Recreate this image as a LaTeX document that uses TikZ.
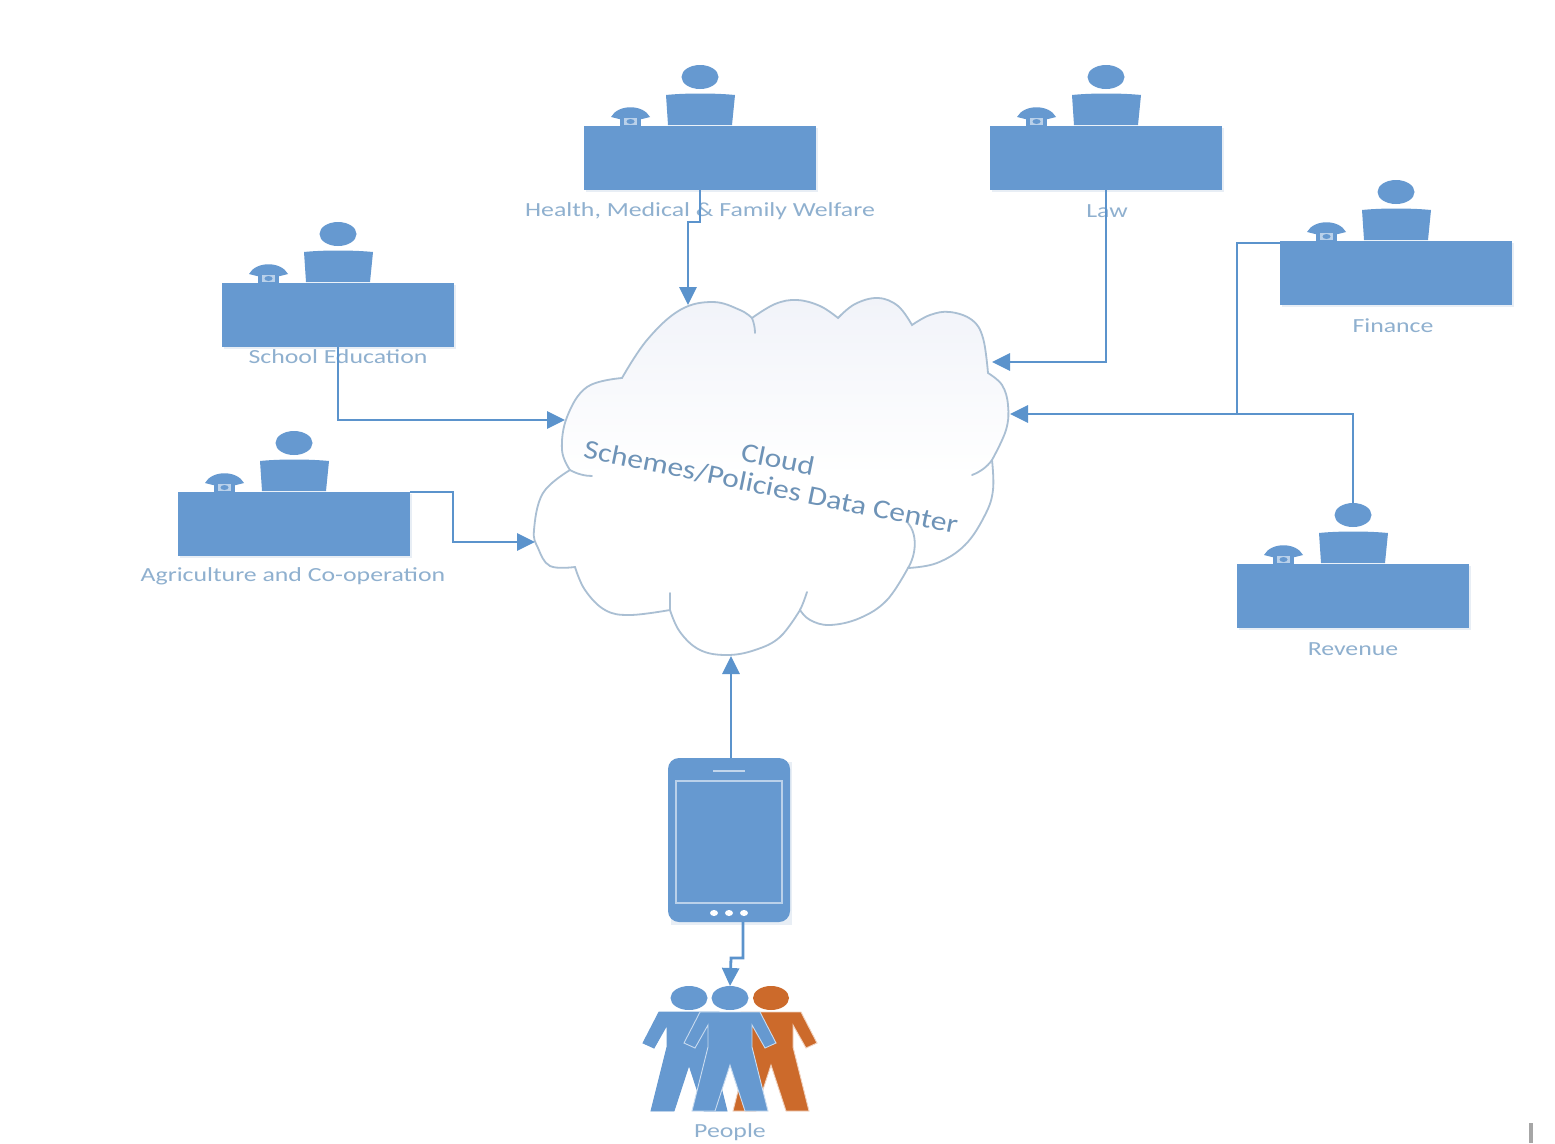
\documentclass[tikz,border=0pt]{standalone}
\usepackage{fontspec}
\setmainfont{Carlito}
\usetikzlibrary{arrows.meta,shapes.geometric,shadings}
\definecolor{ublue}{HTML}{6699D0}
\definecolor{lineblue}{HTML}{5B93CC}
\definecolor{uorange}{HTML}{CC6A2B}
\definecolor{cloudline}{HTML}{AABFD3}
\definecolor{labelc}{HTML}{8FB0CF}
\definecolor{cloudtext}{HTML}{6E93B7}
\definecolor{deskshadow}{HTML}{E8EEF5}
\definecolor{cloudtop}{HTML}{F1F3F9}
\pgfdeclareverticalshading{cloudfade}{100bp}{
  color(0bp)=(white); color(50bp)=(white); color(75bp)=(cloudtop); color(100bp)=(cloudtop)}
\tikzset{
  deskbox/.style={rectangle,fill=ublue,minimum width=232pt,minimum height=64pt,inner sep=0pt,outer sep=0pt},
  headshape/.style={ellipse,fill=ublue,minimum width=37pt,minimum height=24pt,inner sep=0pt,outer sep=0pt},
  lab/.style={text=labelc,font=\fontsize{20}{22}\selectfont,xscale=1.29,inner sep=0pt},
  conn/.style={draw=lineblue,line width=2.8pt,-{Triangle[length=18pt,width=17pt]}},
  connplain/.style={draw=lineblue,line width=2.8pt},
  cloudedge/.style={draw=cloudline,line width=1.8pt},
  cloudlabel/.style={text=cloudtext,font=\fontsize{27}{29}\selectfont,rotate=-11.5,xscale=1.17,inner sep=0pt},
  lobe/.style={smooth,tension=.65},
}
% #1 name, #2 centre x, #3 desk top y, #4 label x, #5 label y, #6 label
\newcommand{\workstation}[6]{%
  \fill[deskshadow] (#2-114,#3+2) rectangle (#2+118,#3+66);
  \node[deskbox] (#1) at (#2,#3+32) {};
  \node[headshape] (#1-head) at (#2,#3-49) {};
  \fill[ublue] (#2-34,#3-31) .. controls (#2-15,#3-33) and (#2+15,#3-33) .. (#2+35,#3-31)
     -- (#2+32,#3-1) -- (#2-32,#3-1) -- cycle;
  \fill[ublue] (#2-89,#3-9) .. controls (#2-82,#3-22) and (#2-57,#3-22) .. (#2-50,#3-9)
     -- (#2-58,#3-7) -- (#2-81,#3-7) -- cycle;
  \fill[ublue] (#2-80,#3-9) rectangle (#2-59,#3);
  \fill[white!55!ublue] (#2-76,#3-8) rectangle (#2-63,#3-1);
  \fill[ublue] (#2-69.5,#3-4.5) ellipse (4pt and 2.5pt);
  \node[lab] (#1-label) at (#4,#5) {#6};
}
% #1 head x, #2 colour, #3 outline
\newcommand{\figurebody}[3]{%
  \path[fill=#2,draw=#3,line width=.9pt] (#1-30,1012) -- (#1+30,1012) -- (#1+46,1043) -- (#1+35,1048)
    -- (#1+22,1025) -- (#1+22,1047) -- (#1+38,1111) -- (#1+15,1111) -- (#1,1065) -- (#1-15,1111)
    -- (#1-38,1111) -- (#1-22,1047) -- (#1-22,1025) -- (#1-35,1048) -- (#1-46,1043) -- cycle;
}
\begin{document}
\begin{tikzpicture}[x=1pt,y=-1pt]
\useasboundingbox (0,0) rectangle (1555,1143);
\fill[white] (0,0) rectangle (1555,1143);

% cloud
\path[cloudedge,shading=cloudfade]
  plot[lobe] coordinates {(622,378) (647,340) (680,310) (713,302) (740,310) (752,318)}
  -- plot[lobe] coordinates {(752,318) (775,304) (797,300) (820,306) (838,318)}
  -- plot[lobe] coordinates {(838,318) (855,304) (878,298) (898,306) (912,325)}
  -- plot[lobe] coordinates {(912,325) (930,315) (950,312) (972,320) (983,338) (988,373)}
  -- plot[lobe] coordinates {(988,373) (1002,385) (1008,405) (1006,430) (992,460)}
  -- plot[lobe] coordinates {(992,460) (993,490) (985,515) (965,545) (937,563) (908,568)}
  -- plot[lobe] coordinates {(908,568) (887,600) (860,618) (830,625) (810,620) (800,610)}
  -- plot[lobe] coordinates {(800,610) (780,637) (755,650) (727,655) (700,650) (680,632) (670,610)}
  -- plot[lobe] coordinates {(670,610) (630,615) (605,610) (585,590) (575,567)}
  -- plot[lobe] coordinates {(575,567) (550,566) (538,548) (534,530) (543,493) (570,470)}
  -- plot[lobe] coordinates {(570,470) (562,450) (567,417) (587,387) (622,378)} -- cycle;
\draw[cloudedge,line cap=round] (752,318) .. controls (754,323) and (755,328) .. (755,333);
\draw[cloudedge,line cap=round] (992,460) .. controls (987,467) and (980,472) .. (972,475);
\draw[cloudedge,line cap=round] (908,568) .. controls (916,555) and (918,535) .. (908,523);
\draw[cloudedge,line cap=round] (800,610) .. controls (803,604) and (805,598) .. (807,592);
\draw[cloudedge,line cap=round] (670,610) -- (670,593);
\draw[cloudedge,line cap=round] (570,470) .. controls (577,474) and (585,476) .. (592,476);
\node[cloudlabel] (cloudword) at (778,459) {Cloud};
\node[cloudlabel] (cloudname) at (771,487) {Schemes/Policies Data Center};

% attachment points on the cloud
\coordinate (cTop) at (688,305);
\coordinate (cLaw) at (992,362);
\coordinate (cRight) at (1010,414);
\coordinate (cLeft) at (565,420);
\coordinate (cAgri) at (535,542);
\coordinate (cBottom) at (731,656);

% workstations
\workstation{health}{700}{126}{700}{211}{Health, Medical \& Family Welfare}
\workstation{law}{1106}{126}{1107}{211}{Law}
\workstation{school}{338}{283}{338}{357}{School Education}
\workstation{agri}{294}{492}{293}{576}{Agriculture and Co-operation}
\workstation{finance}{1396}{241}{1393}{326}{Finance}
\workstation{revenue}{1353}{564}{1353}{649}{Revenue}

% phone
\fill[deskshadow] (671,762) rectangle (792,925);
\node[rectangle,rounded corners=11pt,fill=ublue,minimum width=122pt,minimum height=164pt,inner sep=0pt,outer sep=0pt] (phone) at (729,840) {};
\node[rectangle,draw=white!55!ublue,line width=1.6pt,minimum width=106pt,minimum height=122pt,inner sep=0pt] (screen) at (729,842) {};
\draw[white!60!ublue,line width=1.4pt] (713,771) -- (745,771);
\fill[white] (714,913) ellipse (4pt and 3pt) (729,913) ellipse (4pt and 3pt) (744,913) ellipse (4pt and 3pt);

% people
\figurebody{771}{uorange}{white!70!uorange}
\node[ellipse,fill=uorange,minimum width=36pt,minimum height=24pt,inner sep=0pt] (pright) at (771,998) {};
\figurebody{689}{ublue}{ublue}
\node[headshape] (pleft) at (689,998) {};
\figurebody{730}{ublue}{white!65!ublue}
\node[headshape] (pmid) at (730,998) {};
\node[lab] (peoplelabel) at (730,1132) {People};

% connectors
\draw[conn] (health.south) -- (700,222) -- (688,222) -- (cTop);
\draw[conn] (law.south) -- (1106,362) -- (cLaw);
\draw[conn] (school.south) -- (338,420) -- (cLeft);
\draw[conn] (agri.north east) -- (453,492) -- (453,542) -- (cAgri);
\draw[connplain] (finance.west |- 0,243) -- (1237,243) -- (1237,414);
\draw[conn] (revenue-head.north) -- (1353,414) -- (cRight);
\draw[conn] (phone.north -| cBottom) -- (cBottom);
\draw[conn] (phone.south -| 743,0) -- (743,958) -- (731,958) -- (pmid.north);

% stray mark at the page corner
\fill[black!35] (1529,1123) rectangle (1533,1143);
\end{tikzpicture}
\end{document}
